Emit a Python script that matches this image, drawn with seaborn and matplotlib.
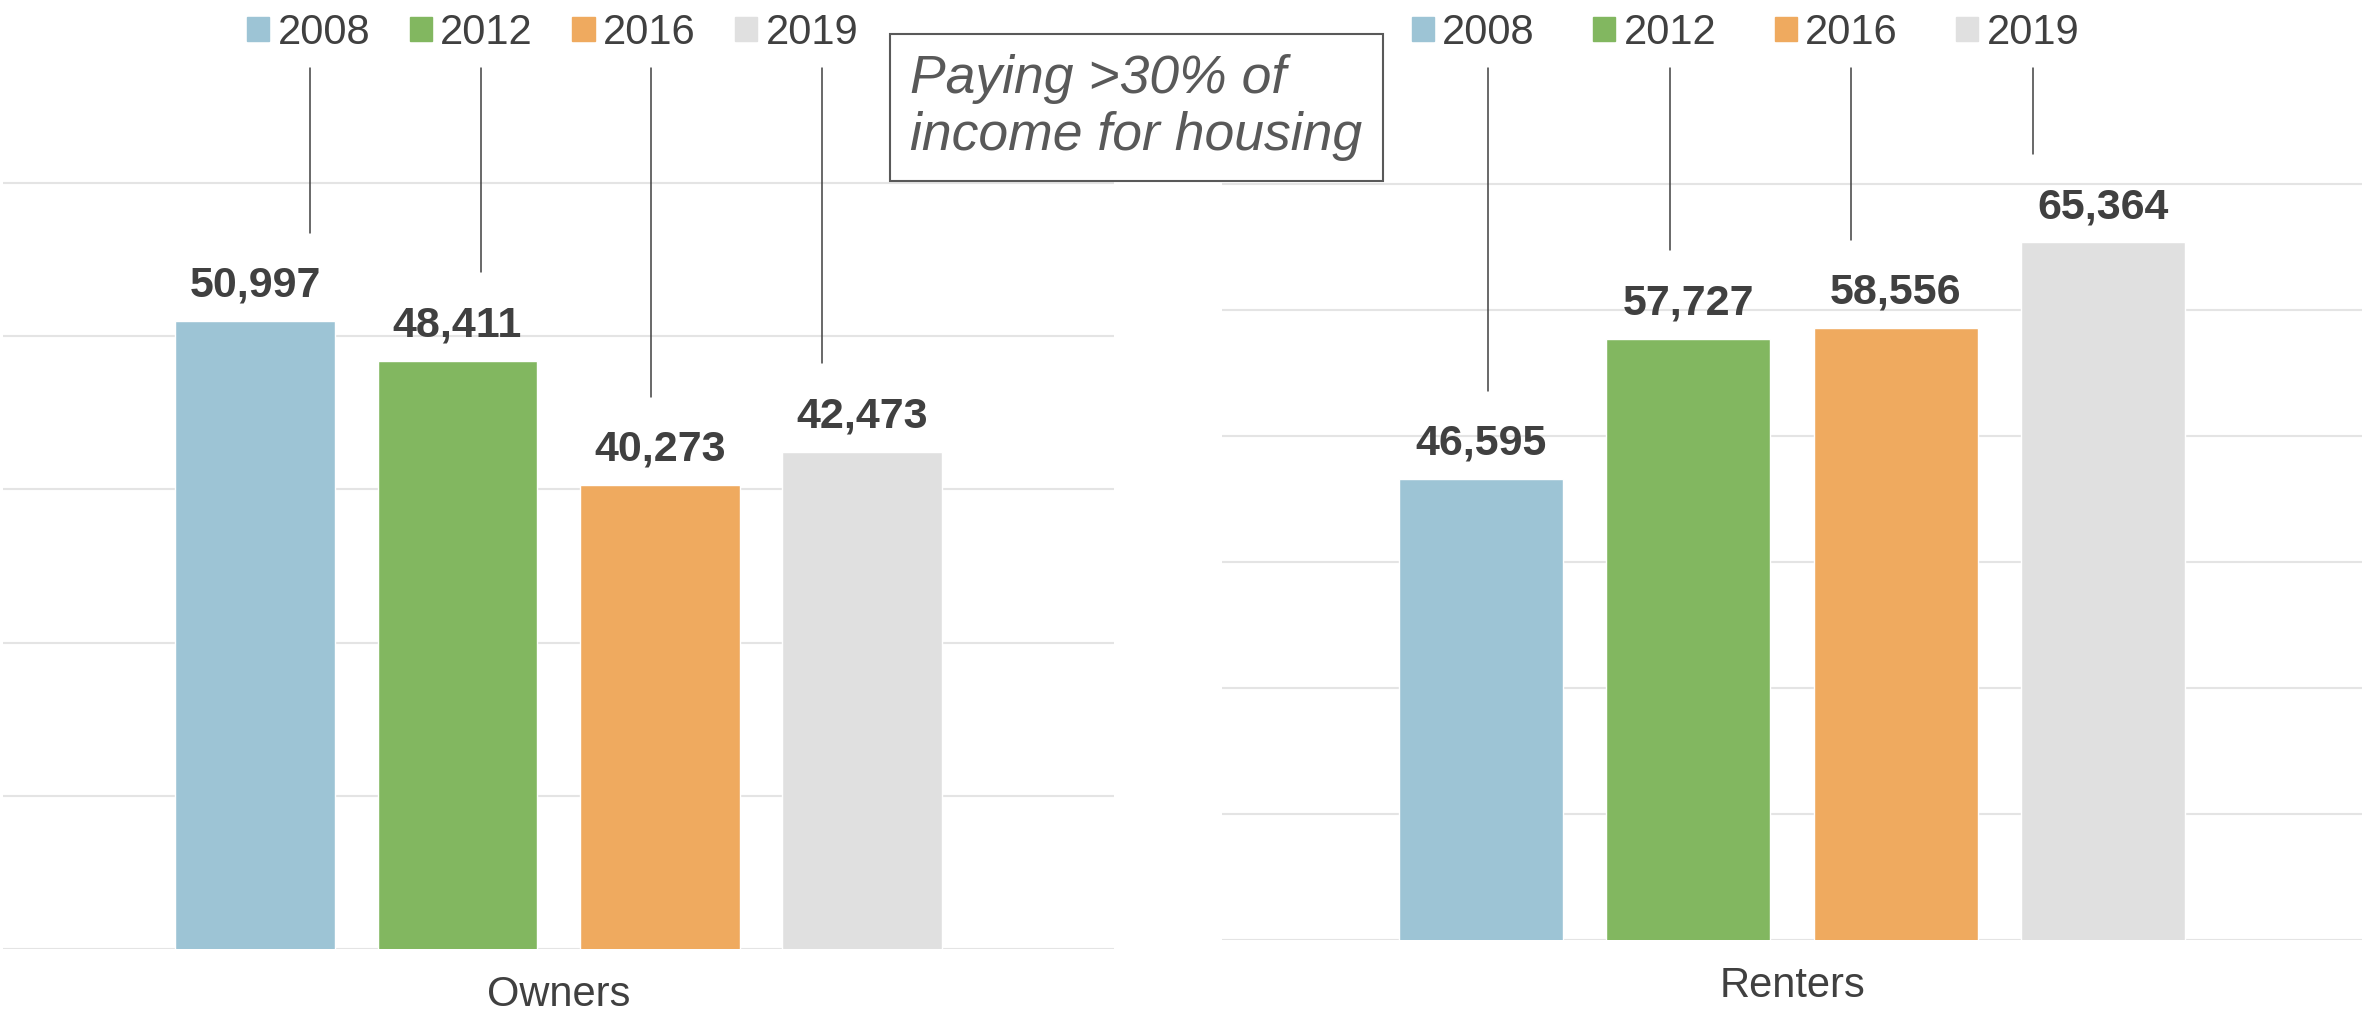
"""Households paying >30% of income for housing, owners vs renters."""

import matplotlib
matplotlib.use("Agg")
import matplotlib.pyplot as plt
import pandas as pd
import seaborn as sns
from matplotlib.lines import Line2D
from matplotlib.patches import Patch

YEARS = ["2008", "2012", "2016", "2019"]
OWNERS = [50997, 48411, 40273, 42473]
RENTERS = [46595, 57727, 58556, 65364]
GROUPS = ["Owners", "Renters"]
NOTE = "Paying >30% of\nincome for housing"

PALETTE = dict(zip(YEARS, ["#9dc4d5", "#82b760", "#efaa5f", "#e0e0e0"]))
TEXT = "#404040"

df = pd.DataFrame({
    "group": [GROUPS[0]] * len(YEARS) + [GROUPS[1]] * len(YEARS),
    "year": YEARS + YEARS,
    "value": OWNERS + RENTERS,
})

sns.set_style("white")
plt.rcParams["font.family"] = ["Liberation Sans", "DejaVu Sans"]

fig = plt.figure(figsize=(23.62, 10.22), dpi=100)
ax_own = fig.add_axes([0.0013, 0.0714, 0.4704, 0.8695])
ax_rent = fig.add_axes([0.5174, 0.0802, 0.4826, 0.8630])

# axis, group, ylim, gridlines, legend centre, column spacing, leader-line pull towards bar
panels = [
    (ax_own, GROUPS[0], (10000, 68000), range(10000, 60001, 10000), 0.234, 0.95, 0.2),
    (ax_rent, GROUPS[1], (10000, 80000), range(10000, 70001, 10000), 0.739, 1.4, 0.0),
]

legends, labels, bars = [], [], []
for ax, grp, ylim, ticks, leg_x, colsp, _ in panels:
    sns.barplot(data=df[df["group"] == grp], x="group", y="value", hue="year",
                hue_order=YEARS, palette=PALETTE, width=0.728, gap=0.21,
                errorbar=None, legend=False, saturation=1, ax=ax)
    ax.set_xlim(-0.5, 0.5)
    ax.set_ylim(*ylim)
    ax.set_yticks(list(ticks))
    ax.set_yticklabels([])
    ax.yaxis.grid(True, color="#e4e4e4", linewidth=1.5)
    ax.set_axisbelow(True)
    ax.set_xlabel("")
    ax.set_ylabel("")
    sns.despine(ax=ax, left=True, bottom=True)
    ax.tick_params(axis="x", length=0, pad=19, labelsize=30, labelcolor=TEXT)
    ax.tick_params(axis="y", length=0)

    texts = []
    for cont in ax.containers:
        texts += ax.bar_label(cont, fmt="{:,.0f}", padding=11, fontsize=31,
                              fontweight="bold", color=TEXT)
    labels.append(texts)
    bars.append([cont.patches[0] for cont in ax.containers])

    handles = [Patch(color=PALETTE[y]) for y in YEARS]
    leg = fig.legend(handles, YEARS, loc="center", bbox_to_anchor=(leg_x, 0.968),
                     ncol=4, frameon=False, fontsize=30, handlelength=0.53,
                     handleheight=0.53, handletextpad=0.2, columnspacing=colsp,
                     labelcolor=TEXT)
    legends.append(leg)

fig.text(0.3853, 0.8948, NOTE, fontsize=38.5, style="italic", color="#595959",
         ha="left", va="center", linespacing=1.18,
         bbox=dict(boxstyle="square,pad=0.38", facecolor="white",
                   edgecolor="#595959", linewidth=1.5))

# leader lines from each legend entry down to its value label
fig.canvas.draw()
rend = fig.canvas.get_renderer()
to_fig = fig.transFigure.inverted()
for leg, texts, patches, panel in zip(legends, labels, bars, panels):
    pull = panel[-1]
    for txt, lab, bar in zip(leg.get_texts(), texts, patches):
        tb = txt.get_window_extent(rend)
        lb = lab.get_window_extent(rend)
        bb = bar.get_window_extent(rend)
        x = (1 - pull) * (tb.x0 + tb.x1) / 2 + pull * (bb.x0 + bb.x1) / 2
        y_top = tb.y0 - 15
        y_bot = lb.y1 + 33
        (x0, y0), (x1, y1) = to_fig.transform([(x, y_top), (x, y_bot)])
        fig.add_artist(Line2D([x0, x1], [y0, y1], transform=fig.transFigure,
                              color=TEXT, linewidth=1.1))

fig.savefig("out.png", dpi=100)
